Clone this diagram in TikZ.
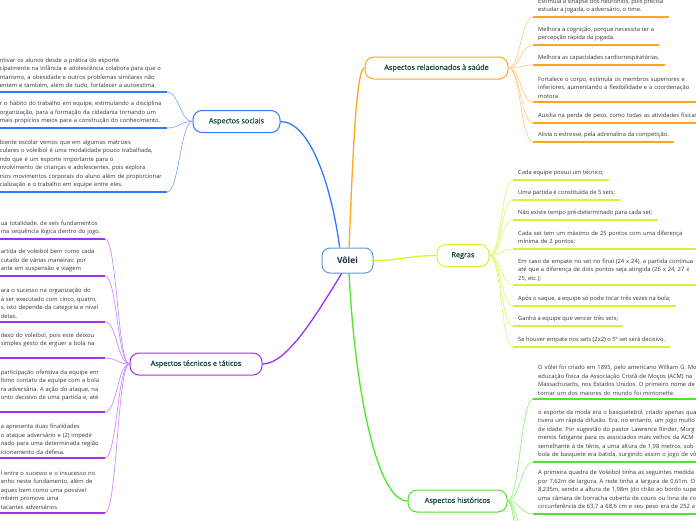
\documentclass[tikz,border=0pt]{standalone}
\usepackage{fontspec}
\setmainfont{Open Sans}
\newfontfamily\titlefont[FakeBold=0.4]{Open Sans}
\usetikzlibrary{calc}
\frenchspacing

\definecolor{rootblue}{RGB}{90,155,216}
\definecolor{rootink}{RGB}{22,40,72}
\definecolor{titleink}{RGB}{22,72,58}
\definecolor{leafink}{RGB}{52,52,52}
\definecolor{cblue}{RGB}{51,119,255}
\definecolor{corange}{RGB}{255,165,31}
\definecolor{cpurple}{RGB}{160,48,240}
\definecolor{cyellow}{RGB}{214,243,52}
\definecolor{cgreen}{RGB}{78,230,42}

\begin{document}
\begin{tikzpicture}[
    x=1pt, y=-1pt,
    root/.style={rectangle, draw=rootblue, line width=1pt, rounded corners=8pt, fill=white, minimum width=51pt, minimum height=25pt, text=rootink, font=\fontsize{8.5}{10}\selectfont\bfseries},
    branch/.style={rectangle, line width=1pt, rounded corners=9pt, fill=white, minimum height=22pt, text=titleink, font=\titlefont\fontsize{7.3}{9}\selectfont},
    leaf/.style={inner xsep=5pt, inner ysep=3.5pt, align=left, text=leafink, font=\fontsize{5.8}{8.5}\selectfont},
    rightleaf/.style={leaf, anchor=south west},
    leftleaf/.style={leaf, inner xsep=3pt, anchor=south east},
    stem/.style={line width=1.3pt},
    twig/.style={line width=0.7pt},
    bar/.style={line width=1.8pt},
]
\useasboundingbox (0,0) rectangle (696,520);
\clip (0,0) rectangle (696,520);

% Centre and main topics
\node[root] (vo) at (347.5,260.5) {Vôlei};
\node[branch, draw=cblue, minimum width=87pt] (so) at (236.5,121.5) {Aspectos sociais};
\node[branch, draw=corange, minimum width=143pt] (sa) at (436.5,68) {Aspectos relacionados à saúde};
\node[branch, draw=cpurple, minimum width=132pt] (te) at (196,364) {Aspectos técnicos e táticos};
\node[branch, draw=cyellow, minimum width=52pt] (re) at (463,255.5) {Regras};
\node[branch, draw=cgreen, minimum width=99pt] (hi) at (457.5,501) {Aspectos históricos};

% Stems
\draw[stem, cblue] (vo.121) .. controls +(-8,-60) and +(30,0) .. (so.east);
\draw[stem, corange] (vo.83) .. controls +(4,-100) and +(-8,0) .. (sa.west);
\draw[stem, cpurple] (vo.246) .. controls +(-25,40) and +(25,0) .. (te.east);
\draw[stem, cgreen] (vo.277) .. controls +(6,120) and +(-30,0) .. (hi.west);
\draw[stem, cyellow] (vo.east) .. controls +(25,0) and +(-25,0) .. (re.west);

% Saude
\node[rightleaf] (sa1) at (533,17) {Estimula a sinapse dos neurônios, pois precisa\\estudar a jogada, o adversário, o time.};
\node[rightleaf] (sa2) at (533,45) {Melhora a cognição, porque necessita ter a\\percepção rápida da jogada.};
\node[rightleaf] (sa3) at (533,65) {Melhora as capacidades cardiorrespiratórias.};
\node[rightleaf, text width=180pt] (sa4) at (533,102) {Fortalece o corpo, estimula os membros superiores e\\inferiores, aumentando a flexibilidade e a coordenação\\motora.};
\node[rightleaf, text width=180pt] (sa5) at (533,123) {Auxilia na perda de peso, como todas as atividades físicas};
\node[rightleaf] (sa6) at (533,142) {Alivia o estresse, pela adrenalina da competição.};

\draw[bar, corange] (sa1.south west) -- (sa1.south east);
\draw[bar, corange] (sa2.south west) -- (sa2.south east);
\draw[bar, corange] (sa3.south west) -- (sa3.south east);
\draw[bar, corange] (sa4.south west) -- (sa4.south east);
\draw[bar, corange] (sa5.south west) -- (sa5.south east);
\draw[bar, corange] (sa6.south west) -- (sa6.south east);

\draw[twig, corange!55] (sa.east) .. controls +(12,0) and +(-12,0) .. (sa1.south west);
\draw[twig, corange!55] (sa.east) .. controls +(12,0) and +(-12,0) .. (sa2.south west);
\draw[twig, corange!55] (sa.east) .. controls +(12,0) and +(-12,0) .. (sa3.south west);
\draw[twig, corange!55] (sa.east) .. controls +(12,0) and +(-12,0) .. (sa4.south west);
\draw[twig, corange!55] (sa.east) .. controls +(12,0) and +(-12,0) .. (sa5.south west);
\draw[twig, corange!55] (sa.east) .. controls +(12,0) and +(-12,0) .. (sa6.south west);

% Regras
\node[rightleaf] (r1) at (513,180) {Cada equipe possui um técnico;};
\node[rightleaf] (r2) at (513,200) {Uma partida é constituída de 5 sets;};
\node[rightleaf] (r3) at (513,220) {Não existe tempo pré-determinado para cada set;};
\node[rightleaf, text width=180pt] (r4) at (513,249) {Cada set tem um máximo de 25 pontos com uma diferença\\mínima de 2 pontos;};
\node[rightleaf, text width=180pt] (r5) at (513,285) {Em caso de empate no set no final (24 x 24), a partida continua\\até que a diferença de dois pontos seja atingida (26 x 24, 27 x\\25, etc.);};
\node[rightleaf] (r6) at (513,306) {Após o saque, a equipe só pode tocar três vezes na bola;};
\node[rightleaf] (r7) at (513,326) {Ganha a equipe que vencer três sets;};
\node[rightleaf] (r8) at (513,347) {Se houver empate nos sets (2x2) o 5º set será decisivo.};

\draw[bar, cyellow] (r1.south west) -- (r1.south east);
\draw[bar, cyellow] (r2.south west) -- (r2.south east);
\draw[bar, cyellow] (r3.south west) -- (r3.south east);
\draw[bar, cyellow] (r4.south west) -- (r4.south east);
\draw[bar, cyellow] (r5.south west) -- (r5.south east);
\draw[bar, cyellow] (r6.south west) -- (r6.south east);
\draw[bar, cyellow] (r7.south west) -- (r7.south east);
\draw[bar, cyellow] (r8.south west) -- (r8.south east);

\draw[twig, cyellow!70] (re.east) .. controls +(12,0) and +(-12,0) .. (r1.south west);
\draw[twig, cyellow!70] (re.east) .. controls +(12,0) and +(-12,0) .. (r2.south west);
\draw[twig, cyellow!70] (re.east) .. controls +(12,0) and +(-12,0) .. (r3.south west);
\draw[twig, cyellow!70] (re.east) .. controls +(12,0) and +(-12,0) .. (r4.south west);
\draw[twig, cyellow!70] (re.east) .. controls +(12,0) and +(-12,0) .. (r5.south west);
\draw[twig, cyellow!70] (re.east) .. controls +(12,0) and +(-12,0) .. (r6.south west);
\draw[twig, cyellow!70] (re.east) .. controls +(12,0) and +(-12,0) .. (r7.south west);
\draw[twig, cyellow!70] (re.east) .. controls +(12,0) and +(-12,0) .. (r8.south west);

% Historicos
\node[rightleaf, text width=180pt] (h1) at (533,399) {O vôlei foi criado em 1895, pelo americano William G. Mo\\educação física da Associação Cristã de Moços (ACM) na\\Massachusetts, nos Estados Unidos. O primeiro nome de\\tornar um dos maiores do mundo foi mintonette.};
\node[rightleaf, text width=180pt] (h2) at (533,462) {o esporte da moda era o basquetebol, criado apenas qua\\tivera um rápida difusão. Era, no entanto, um jogo muito\\de idade. Por sugestão do pastor Lawrence Rinder, Morg\\menos fatigante para os associados mais velhos da ACM\\semelhante à de tênis, a uma altura de 1,98 metros, sob\\bola de basquete era batida, surgindo assim o jogo de vô};
\node[rightleaf, text width=180pt] (h3) at (533,514) {A primeira quadra de Voleibol tinha as seguintes medida\\por 7,62m de largura. A rede tinha a largura de 0,61m. O\\8,235m, sendo a altura de 1,98m (do chão ao bordo supe\\uma câmara de borracha coberta de couro ou lona de co\\circunferência de 63,7 a 68,6 cm e seu peso era de 252 a};
\coordinate (h4) at (533,560);
\coordinate (h5) at (533,610);
\coordinate (h6) at (533,680);

\draw[bar, cgreen] (h1.south west) -- (h1.south east);
\draw[bar, cgreen] (h2.south west) -- (h2.south east);
\draw[bar, cgreen] (h3.south west) -- (h3.south east);

\draw[twig, cgreen!60] (hi.east) .. controls +(12,0) and +(-12,0) .. (h1.south west);
\draw[twig, cgreen!60] (hi.east) .. controls +(12,0) and +(-12,0) .. (h2.south west);
\draw[twig, cgreen!60] (hi.east) .. controls +(12,0) and +(-12,0) .. (h3.south west);
\draw[twig, cgreen!60] (hi.east) .. controls +(12,0) and +(-12,0) .. (h4);
\draw[twig, cgreen!60] (hi.east) .. controls +(12,0) and +(-12,0) .. (h5);
\draw[twig, cgreen!60] (hi.east) .. controls +(12,0) and +(-12,0) .. (h6);

% Sociais
\node[leftleaf, text width=164pt] (so1) at (167,92) {ntivar os alunos desde a prática do esporte\\cipalmente na infância e adolescência colabora para que o\\ntarismo, a obesidade e outros problemas similares não\\entem e também, além de tudo, fortalecer a autoestima.};
\node[leftleaf, text width=164pt] (so2) at (167,128) {r o hábito do trabalho em equipe, estimulando a disciplina\\organização, para a formação da cidadania tornando um\\mais propícios meios para a construção do conhecimento.};
\node[leftleaf, text width=164pt] (so3) at (167,192) {biente escolar vemos que em algumas matrizes\\culares o voleibol é uma modalidade pouco trabalhada,\\ndo que é um esporte importante para o\\nvolvimento de crianças e adolescentes, pois explora\\rsos movimentos corporais do aluno além de proporcionar\\cialização e o trabalho em equipe entre eles.};

\draw[bar, cblue] (so1.south west) -- (so1.south east);
\draw[bar, cblue] (so2.south west) -- (so2.south east);
\draw[bar, cblue] (so3.south west) -- (so3.south east);

\draw[twig, cblue!60] (so.west) .. controls +(-12,0) and +(12,0) .. (so1.south east);
\draw[twig, cblue!60] (so.west) .. controls +(-12,0) and +(12,0) .. (so2.south east);
\draw[twig, cblue!60] (so.west) .. controls +(-12,0) and +(12,0) .. (so3.south east);

% Tecnicos e taticos
\node[leftleaf, text width=101pt] (te1) at (105,239) {ua totalidade, de seis fundamentos\\ma sequência lógica dentro do jogo.};
\node[leftleaf, text width=101pt] (te2) at (105,276) {artida de voleibol bem como cada\\cutado de várias maneiras: por\\ante em suspensão e viagem};
\node[leftleaf, text width=101pt] (te3) at (105,322) {ara o sucesso na organização do\\á ser executado com cinco, quatro,\\s, isto depende da categoria e nível\\detas.};
\node[leftleaf, text width=101pt] (te4) at (105,358) {dexo do voleibol, pois este deixou\\simples gesto de erguer a bola na\\~};
\node[leftleaf, text width=101pt] (te5) at (105,412) {participação ofensiva da equipe em\\ltimo contato da equipe com a bola\\ra adversária. A ação do ataque, na\\onto decisivo de uma partida e, até\\~};
\node[leftleaf, text width=101pt] (te6) at (105,458) {a apresenta duas finalidades\\o ataque adversário e (2) impedir\\nado para uma determinada região\\icionamento da defesa.};
\node[leftleaf, text width=101pt] (te7) at (105,513) {l entre o sucesso e o insucesso no\\enho neste fundamento, além de\\aques bem como uma possível\\mbém promove uma\\tacantes adversários.};

\draw[bar, cpurple] (te1.south west) -- (te1.south east);
\draw[bar, cpurple] (te2.south west) -- (te2.south east);
\draw[bar, cpurple] (te3.south west) -- (te3.south east);
\draw[bar, cpurple] (te4.south west) -- (te4.south east);
\draw[bar, cpurple] (te5.south west) -- (te5.south east);
\draw[bar, cpurple] (te6.south west) -- (te6.south east);
\draw[bar, cpurple] (te7.south west) -- (te7.south east);

\draw[twig, cpurple!55] (te.west) .. controls +(-12,0) and +(12,0) .. (te1.south east);
\draw[twig, cpurple!55] (te.west) .. controls +(-12,0) and +(12,0) .. (te2.south east);
\draw[twig, cpurple!55] (te.west) .. controls +(-12,0) and +(12,0) .. (te3.south east);
\draw[twig, cpurple!55] (te.west) .. controls +(-12,0) and +(12,0) .. (te4.south east);
\draw[twig, cpurple!55] (te.west) .. controls +(-12,0) and +(12,0) .. (te5.south east);
\draw[twig, cpurple!55] (te.west) .. controls +(-12,0) and +(12,0) .. (te6.south east);
\draw[twig, cpurple!55] (te.west) .. controls +(-12,0) and +(12,0) .. (te7.south east);

\end{tikzpicture}
\end{document}
